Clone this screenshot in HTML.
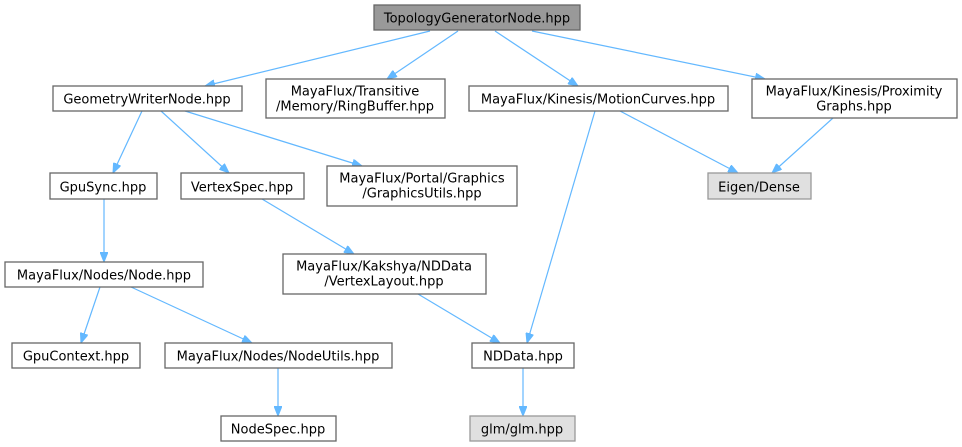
<!DOCTYPE html>
<html><head><meta charset="utf-8"><style>
html,body{margin:0;padding:0;background:#fff}
svg{display:block}
text{font-family:"DejaVu Sans","Liberation Sans",sans-serif;font-size:13px;fill:#000;text-anchor:middle}
rect{stroke:#666;stroke-width:1.3;fill:#fff}
line{stroke:#63b8ff;stroke-width:1.2}
</style></head><body>
<svg width="962" height="447" viewBox="0 0 962 447" xmlns="http://www.w3.org/2000/svg">
<defs><marker id="a" viewBox="0 0 10 8" refX="10" refY="4" markerWidth="10" markerHeight="8" markerUnits="userSpaceOnUse" orient="auto"><path d="M0,0 L10,4 L0,8 z" fill="#63b8ff" stroke="#63b8ff"/></marker></defs>
<g marker-end="url(#a)">
<line x1="430" y1="31" x2="205" y2="86"/>
<line x1="458" y1="31" x2="387" y2="79"/>
<line x1="495" y1="31" x2="578" y2="86"/>
<line x1="532" y1="31" x2="765" y2="79"/>
<line x1="142" y1="111" x2="113" y2="173"/>
<line x1="161" y1="111" x2="229" y2="173"/>
<line x1="185" y1="111" x2="362" y2="166"/>
<line x1="595" y1="111" x2="527" y2="343"/>
<line x1="620" y1="111" x2="738" y2="173"/>
<line x1="833" y1="118" x2="772" y2="173"/>
<line x1="104" y1="199" x2="104" y2="262"/>
<line x1="262" y1="199" x2="354" y2="254"/>
<line x1="100" y1="287" x2="81" y2="343"/>
<line x1="131" y1="287" x2="252" y2="343"/>
<line x1="278" y1="368" x2="278" y2="416"/>
<line x1="418" y1="294" x2="500" y2="343"/>
<line x1="523" y1="368" x2="523" y2="416"/>
</g>
<rect x="374" y="5" width="206" height="25" style="fill:#999"/><text x="477" y="22.5">TopologyGeneratorNode.hpp</text>
<rect x="53" y="86" width="189" height="25"/><text x="147" y="103.5">GeometryWriterNode.hpp</text>
<rect x="266" y="79" width="179" height="39"/><text x="355" y="95.5">MayaFlux/Transitive</text><text x="355" y="110.5">/Memory/RingBuffer.hpp</text>
<rect x="469" y="86" width="259" height="25"/><text x="598" y="103.5">MayaFlux/Kinesis/MotionCurves.hpp</text>
<rect x="752" y="79" width="205" height="39"/><text x="854" y="95.5">MayaFlux/Kinesis/Proximity</text><text x="854" y="110.5">Graphs.hpp</text>
<rect x="50" y="173" width="107" height="26"/><text x="103" y="191.5">GpuSync.hpp</text>
<rect x="181" y="173" width="123" height="26"/><text x="242" y="191.5">VertexSpec.hpp</text>
<rect x="327" y="166" width="190" height="40"/><text x="422" y="182.5">MayaFlux/Portal/Graphics</text><text x="422" y="197.5">/GraphicsUtils.hpp</text>
<rect x="708" y="173" width="103" height="26" style="fill:#e0e0e0;stroke:#999"/><text x="759" y="191.5">Eigen/Dense</text>
<rect x="5" y="262" width="198" height="25"/><text x="104" y="279.5">MayaFlux/Nodes/Node.hpp</text>
<rect x="283" y="254" width="203" height="40"/><text x="384" y="270.5">MayaFlux/Kakshya/NDData</text><text x="384" y="285.5">/VertexLayout.hpp</text>
<rect x="12" y="343" width="128" height="25"/><text x="76" y="360.5">GpuContext.hpp</text>
<rect x="165" y="343" width="227" height="25"/><text x="278" y="360.5">MayaFlux/Nodes/NodeUtils.hpp</text>
<rect x="472" y="343" width="102" height="25"/><text x="523" y="360.5">NDData.hpp</text>
<rect x="221" y="416" width="115" height="25"/><text x="278" y="433.5">NodeSpec.hpp</text>
<rect x="470" y="416" width="105" height="25" style="fill:#e0e0e0;stroke:#999"/><text x="522" y="433.5">glm/glm.hpp</text>
</svg>
</body></html>
